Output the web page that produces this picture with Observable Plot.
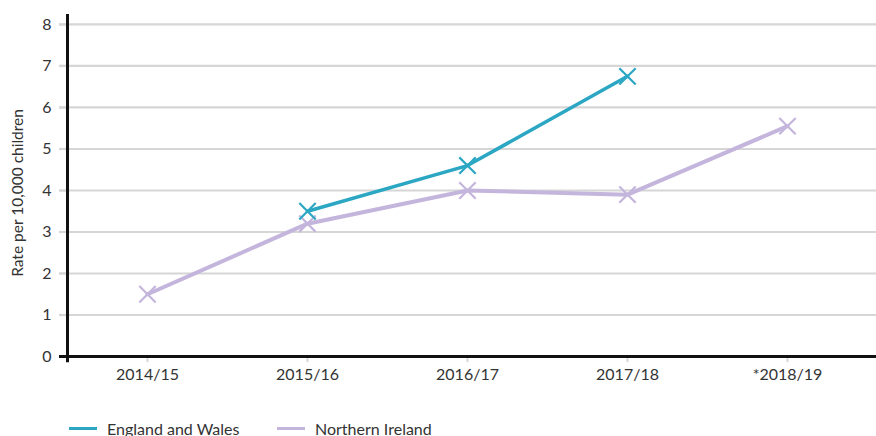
<!DOCTYPE html>
<html>
<head>
<meta charset="utf-8">
<script src="https://cdn.jsdelivr.net/npm/d3@7"></script>
<script src="https://cdn.jsdelivr.net/npm/@observablehq/plot@0.6"></script>
<style>
  body { margin: 0; background: #fff; font-family: Lato, "Open Sans", sans-serif; }
  #chart svg { display: block; }
  .legend { position: relative; height: 36px; font-size: 16px; color: #333; }
  .legend .item { position: absolute; top: 18px; display: flex; align-items: center; height: 20px; }
  .legend .sw { display: inline-block; width: 28px; height: 3px; margin-right: 10px; }
</style>
</head>
<body>
<div id="chart"></div>
<div class="legend">
  <div class="item" style="left:69px"><span class="sw" style="background:#2ba7c4"></span>England and Wales</div>
  <div class="item" style="left:277px"><span class="sw" style="background:#c4b5dc"></span>Northern Ireland</div>
</div>
<script>
const years = ["2014/15", "2015/16", "2016/17", "2017/18", "*2018/19"];
const englandWales = [null, 3.5, 4.6, 6.75, null];
const northernIreland = [1.5, 3.2, 4.0, 3.9, 5.55];
const yTicks = [0, 1, 2, 3, 4, 5, 6, 7, 8];
const seriesNames = ["England and Wales", "Northern Ireland"];
const colors = ["#2ba7c4", "#c4b5dc"];
const yLabel = "Rate per 10,000 children";

const rows = [];
years.forEach((y, i) => {
  if (englandWales[i] != null) rows.push({i, year: y, series: seriesNames[0], value: englandWales[i]});
  if (northernIreland[i] != null) rows.push({i, year: y, series: seriesNames[1], value: northernIreland[i]});
});
const ew = rows.filter(d => d.series === seriesNames[0]);
const ni = rows.filter(d => d.series === seriesNames[1]);

const chart = Plot.plot({
  width: 876,
  height: 400,
  marginLeft: 67,
  marginRight: 0,
  marginTop: 14,
  marginBottom: 44,
  style: {fontFamily: "Lato, 'Open Sans', sans-serif", fontSize: "16px", color: "#333", background: "#fff"},
  x: {domain: [-0.5, 4.55625], axis: null},
  y: {domain: [0, 8.24], axis: null},
  marks: [
    Plot.ruleY(yTicks.filter(t => t > 0), {x1: -0.55, x2: 4.55625, stroke: "#d6d6d6", strokeWidth: 2.2}),
    Plot.axisY(yTicks, {
      ticks: yTicks, tickSize: 8, tickPadding: 8, stroke: "#d6d6d6", strokeWidth: 2.2,
      fill: "#333", fontSize: 16, label: null
    }),
    Plot.text([yLabel], {
      x: -0.5, y: 3.94, text: d => d, rotate: -90, dx: -49, fill: "#333", fontSize: 15.5,
      textAnchor: "middle", lineAnchor: "middle"
    }),
    Plot.axisX(years.map((d, i) => i), {
      ticks: years.map((d, i) => i), tickFormat: i => years[i], tickSize: 6, tickPadding: 6,
      stroke: "#d6d6d6", strokeWidth: 2, fill: "#333", fontSize: 16, label: null
    }),
    Plot.ruleY([0], {x1: -0.55, x2: 4.55625, stroke: "#111", strokeWidth: 3}),
    Plot.ruleX([-0.5], {y1: -0.15, y2: 8.24, stroke: "#111", strokeWidth: 3}),
    Plot.line(ni, {x: "i", y: "value", stroke: colors[1], strokeWidth: 4}),
    Plot.dot(ni, {x: "i", y: "value", symbol: "times", r: 7.5, stroke: colors[1], strokeWidth: 2.2}),
    Plot.line(ew, {x: "i", y: "value", stroke: colors[0], strokeWidth: 3.5}),
    Plot.dot(ew, {x: "i", y: "value", symbol: "times", r: 7.5, stroke: colors[0], strokeWidth: 2.2})
  ]
});
document.getElementById("chart").appendChild(chart);
</script>
</body>
</html>
